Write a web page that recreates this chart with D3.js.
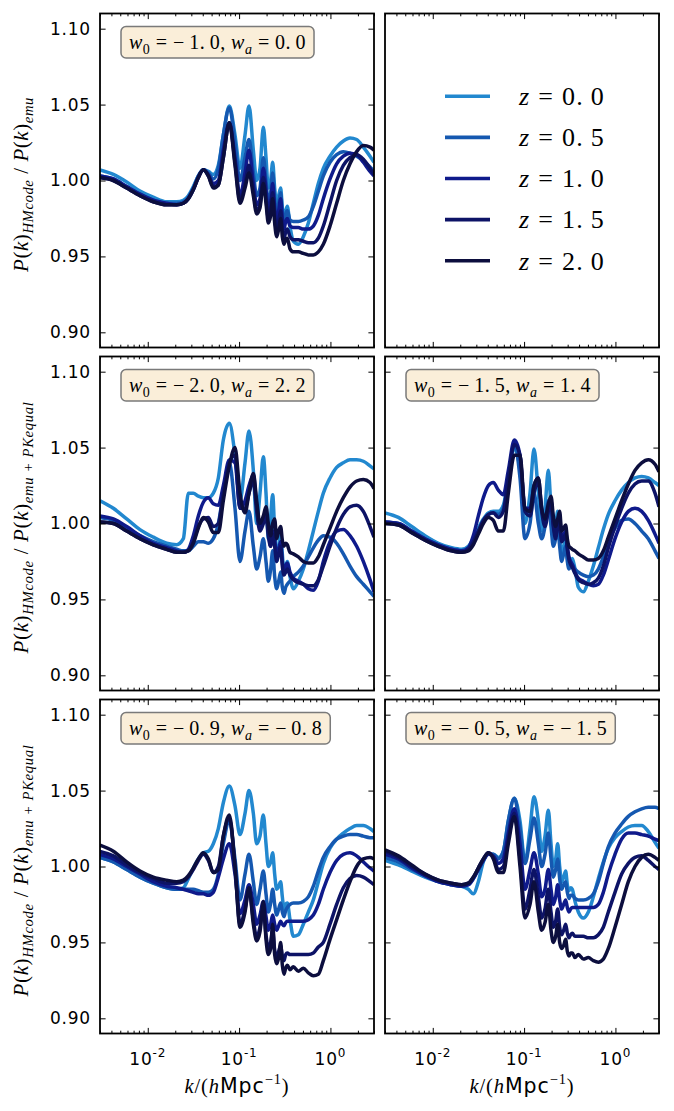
<!DOCTYPE html>
<html><head><meta charset="utf-8">
<script src="https://cdn.jsdelivr.net/npm/d3@7/dist/d3.min.js"></script>
<style>html,body{margin:0;padding:0;background:#fff;} svg{display:block}</style>
</head><body>
<svg id="chart" width="674" height="1111"></svg>
<script>
// ---------------- DATA ----------------
const kValues = [0.003, 0.0042, 0.00588, 0.00822, 0.01151, 0.01611, 0.02073, 0.02452, 0.02782, 0.03155,
  0.03579, 0.04059, 0.04605, 0.05223, 0.05925, 0.06721, 0.0782, 0.0902, 0.1023, 0.1161,
  0.1284, 0.1432, 0.1558, 0.1694, 0.1843, 0.1971, 0.209, 0.2217, 0.2332, 0.2452,
  0.2579, 0.2712, 0.2852, 0.2975, 0.3103, 0.3235, 0.3374, 0.3609, 0.3926, 0.4453,
  0.5051, 0.573, 0.65, 0.7373, 0.8364, 0.9894, 1.17, 1.385, 1.638, 1.938,
  2.292, 2.712, 3.0];

const kLimits = [0.003, 3];
const ratioLimits = [0.89, 1.11];
const yTicks = [0.90, 0.95, 1.00, 1.05, 1.10];
const yTickLabels = ["0.90", "0.95", "1.00", "1.05", "1.10"];
const xMajorTicks = [0.01, 0.1, 1];
const xTickLabels = [["10", "-2"], ["10", "-1"], ["10", "0"]];
const redshiftLabels = ["0.0", "0.5", "1.0", "1.5", "2.0"];
const w0Labels = ["\u22121.0", "\u22122.0", "\u22121.5", "\u22120.9", "\u22120.5"];
const waLabels = ["0.0", "2.2", "1.4", "\u22120.8", "\u22121.5"];

// Panel A: w0=-1.0, wa=0.0
const panelA_z00 = [1.007,1.004,0.999,0.993,0.989,0.986,0.986,0.987,0.990,0.996,
  1.003,1.007,1.006,1.004,1.010,1.030,1.049,1.030,1.008,1.030,
  1.049,1.020,1.000,1.008,1.035,1.015,0.995,1.000,1.012,0.995,
  0.985,0.990,0.995,0.982,0.975,0.980,0.983,0.970,0.960,0.958,
  0.963,0.972,0.985,0.998,1.008,1.016,1.022,1.026,1.028,1.027,
  1.022,1.016,1.012];
const panelA_z05 = [1.003,1.001,0.996,0.991,0.987,0.985,0.985,0.986,0.989,0.995,
  1.003,1.007,1.005,1.001,1.008,1.030,1.048,1.025,1.000,1.015,
  1.027,1.005,0.990,0.995,1.015,1.000,0.985,0.992,1.005,0.988,
  0.978,0.985,0.992,0.978,0.972,0.978,0.980,0.974,0.973,0.973,
  0.974,0.976,0.983,0.993,1.003,1.012,1.017,1.019,1.018,1.016,
  1.013,1.009,1.006];
const panelA_z10 = [1.003,1.001,0.996,0.991,0.987,0.985,0.984,0.985,0.988,0.994,
  1.002,1.007,1.004,0.998,1.000,1.020,1.038,1.015,0.990,1.005,
  1.020,0.998,0.984,0.988,1.008,0.994,0.980,0.986,0.998,0.982,
  0.973,0.980,0.988,0.975,0.968,0.973,0.975,0.970,0.969,0.969,
  0.968,0.968,0.970,0.977,0.988,1.001,1.011,1.016,1.018,1.017,
  1.012,1.006,1.003];
const panelA_z15 = [1.002,1.000,0.995,0.990,0.986,0.984,0.984,0.985,0.988,0.994,
  1.002,1.007,1.003,0.996,0.997,1.015,1.038,1.012,0.987,0.998,
  1.010,0.993,0.980,0.984,1.002,0.988,0.975,0.981,0.992,0.976,
  0.967,0.973,0.980,0.968,0.962,0.966,0.968,0.963,0.961,0.961,
  0.960,0.959,0.959,0.962,0.970,0.985,1.000,1.010,1.015,1.017,
  1.014,1.008,1.004];
const panelA_z20 = [1.002,1.000,0.995,0.990,0.986,0.984,0.984,0.985,0.988,0.994,
  1.002,1.007,1.003,0.995,0.997,1.015,1.038,1.010,0.985,0.995,
  1.005,0.990,0.978,0.982,0.998,0.985,0.972,0.977,0.988,0.972,
  0.963,0.968,0.975,0.963,0.958,0.961,0.962,0.955,0.953,0.953,
  0.952,0.951,0.951,0.953,0.958,0.970,0.985,1.000,1.011,1.019,
  1.023,1.022,1.020];

// Panel B: w0=-2.0, wa=2.2
const panelB_z00 = [1.015,1.010,1.003,0.996,0.991,0.987,0.986,0.990,1.020,1.020,
  1.018,1.017,1.017,1.020,1.030,1.055,1.066,1.045,1.015,1.040,
  1.061,1.035,1.000,1.020,1.044,1.020,0.990,1.005,1.019,0.995,
  0.975,0.985,0.995,0.980,0.968,0.972,0.975,0.965,0.957,0.962,
  0.970,0.982,0.995,1.008,1.020,1.030,1.037,1.040,1.042,1.042,
  1.041,1.038,1.036];
const panelB_z05 = [1.004,1.002,0.997,0.992,0.988,0.985,0.983,0.982,0.982,0.985,
  0.988,0.988,0.987,0.990,1.000,1.020,1.040,1.010,0.975,0.995,
  1.008,0.985,0.970,0.978,0.990,0.975,0.962,0.970,0.982,0.965,
  0.957,0.962,0.968,0.958,0.954,0.958,0.960,0.962,0.965,0.968,
  0.972,0.978,0.984,0.989,0.992,0.991,0.987,0.980,0.972,0.965,
  0.960,0.955,0.952];
const panelB_z10 = [1.005,1.003,0.998,0.992,0.987,0.984,0.982,0.981,0.983,0.992,
  1.005,1.014,1.017,1.013,1.012,1.025,1.042,1.040,1.010,1.015,
  1.025,1.032,1.012,0.998,1.002,1.008,0.995,0.985,0.995,0.990,
  0.978,0.983,0.988,0.975,0.968,0.972,0.974,0.968,0.964,0.962,
  0.960,0.957,0.956,0.962,0.975,0.988,0.995,0.996,0.992,0.985,
  0.975,0.963,0.955];
const panelB_z15 = [1.001,1.000,0.995,0.990,0.986,0.983,0.981,0.981,0.982,0.988,
  0.998,1.003,1.004,0.998,1.000,1.020,1.040,1.045,1.010,1.010,
  1.020,1.028,1.008,0.995,1.000,1.005,0.992,0.985,0.993,0.985,
  0.975,0.980,0.985,0.972,0.966,0.968,0.970,0.966,0.963,0.961,
  0.960,0.959,0.959,0.963,0.972,0.985,0.997,1.006,1.011,1.012,
  1.008,0.998,0.991];
const panelB_z20 = [1.001,1.000,0.995,0.990,0.986,0.983,0.981,0.981,0.982,0.987,
  0.997,1.004,1.001,0.994,0.994,1.015,1.038,1.050,1.020,1.007,
  1.020,1.033,1.015,1.000,1.005,1.011,1.000,0.992,1.000,1.003,
  0.990,0.995,0.998,0.989,0.985,0.987,0.986,0.981,0.980,0.978,
  0.975,0.974,0.974,0.978,0.986,0.997,1.008,1.017,1.024,1.028,
  1.029,1.027,1.023];

// Panel C: w0=-1.5, wa=1.4
const panelC_z00 = [1.007,1.004,0.998,0.992,0.987,0.984,0.983,0.985,0.990,0.997,
  1.003,1.007,1.008,1.008,1.012,1.030,1.050,1.035,1.000,1.020,
  1.049,1.020,0.995,1.010,1.035,1.010,0.990,0.998,1.008,0.990,
  0.980,0.985,0.990,0.978,0.972,0.975,0.977,0.970,0.958,0.955,
  0.962,0.972,0.984,0.996,1.006,1.015,1.022,1.027,1.030,1.031,
  1.030,1.027,1.025];
const panelC_z05 = [1.001,1.000,0.995,0.990,0.986,0.983,0.982,0.983,0.988,0.995,
  1.002,1.006,1.007,1.006,1.010,1.030,1.052,1.030,0.990,1.000,
  1.020,1.000,0.990,0.998,1.015,0.998,0.985,0.990,1.000,0.985,
  0.975,0.980,0.985,0.975,0.970,0.972,0.973,0.970,0.968,0.966,
  0.965,0.966,0.970,0.978,0.988,0.997,1.002,1.003,1.000,0.995,
  0.990,0.982,0.977];
const panelC_z10 = [1.001,1.000,0.995,0.990,0.986,0.983,0.982,0.984,0.992,1.005,
  1.017,1.025,1.027,1.022,1.019,1.035,1.055,1.045,1.010,1.010,
  1.025,1.030,1.010,1.000,1.010,1.015,1.000,0.992,1.000,1.003,
  0.990,0.992,0.995,0.985,0.978,0.975,0.973,0.968,0.964,0.962,
  0.960,0.959,0.960,0.966,0.976,0.990,1.001,1.008,1.010,1.008,
  1.002,0.993,0.987];
const panelC_z15 = [1.000,0.999,0.994,0.989,0.985,0.982,0.981,0.983,0.988,0.995,
  1.002,1.006,1.007,1.004,1.008,1.030,1.052,1.045,1.008,1.005,
  1.020,1.027,1.008,0.998,1.008,1.012,0.998,0.990,0.998,1.000,
  0.988,0.990,0.993,0.983,0.976,0.973,0.971,0.967,0.963,0.961,
  0.960,0.961,0.964,0.972,0.984,0.998,1.010,1.020,1.026,1.028,
  1.028,1.020,1.011];
const panelC_z20 = [1.000,0.999,0.994,0.989,0.985,0.982,0.981,0.982,0.986,0.993,
  1.000,1.004,1.002,0.995,0.995,1.020,1.045,1.045,1.010,1.008,
  1.025,1.030,1.010,1.003,1.013,1.018,1.005,0.998,1.003,1.008,
  0.995,0.997,0.999,0.990,0.985,0.984,0.983,0.982,0.980,0.978,
  0.976,0.976,0.977,0.982,0.991,1.003,1.015,1.026,1.035,1.040,
  1.042,1.039,1.034];

// Panel D: w0=-0.9, wa=-0.8
const panelD_z00 = [1.006,1.003,0.998,0.993,0.989,0.986,0.985,0.986,0.992,0.999,
  1.005,1.009,1.010,1.015,1.025,1.042,1.053,1.040,1.021,1.035,
  1.050,1.035,1.015,1.020,1.034,1.015,1.000,1.003,1.009,0.995,
  0.985,0.987,0.990,0.980,0.972,0.975,0.976,0.965,0.954,0.955,
  0.962,0.970,0.978,0.990,1.002,1.012,1.018,1.022,1.025,1.027,
  1.027,1.025,1.023];
const panelD_z05 = [1.006,1.003,0.998,0.993,0.989,0.986,0.985,0.985,0.985,0.985,
  0.984,0.983,0.983,0.985,0.995,1.015,1.030,1.005,0.978,0.995,
  1.008,0.990,0.975,0.985,0.997,0.982,0.970,0.976,0.985,0.975,
  0.968,0.972,0.976,0.970,0.967,0.971,0.973,0.975,0.976,0.976,
  0.977,0.980,0.987,0.997,1.006,1.013,1.018,1.020,1.021,1.021,
  1.020,1.019,1.019];
const panelD_z10 = [1.008,1.005,1.000,0.995,0.990,0.987,0.986,0.985,0.984,0.983,
  0.982,0.982,0.981,0.983,0.993,1.005,1.015,0.995,0.969,0.978,
  0.988,0.975,0.962,0.968,0.977,0.967,0.958,0.962,0.968,0.962,
  0.958,0.961,0.964,0.962,0.961,0.963,0.964,0.964,0.964,0.964,
  0.964,0.965,0.968,0.975,0.985,0.996,1.004,1.008,1.009,1.007,
  1.003,0.999,0.997];
const panelD_z15 = [1.010,1.007,1.001,0.996,0.992,0.989,0.989,0.990,0.993,0.998,
  1.004,1.008,1.004,0.996,1.000,1.020,1.032,1.000,0.962,0.972,
  0.985,0.965,0.953,0.960,0.972,0.955,0.946,0.950,0.958,0.945,
  0.940,0.944,0.948,0.941,0.938,0.942,0.943,0.942,0.942,0.942,
  0.942,0.942,0.943,0.947,0.950,0.962,0.975,0.986,0.992,0.994,
  0.993,0.990,0.988];
const panelD_z20 = [1.014,1.010,1.003,0.997,0.993,0.991,0.990,0.991,0.994,0.999,
  1.005,1.009,1.005,0.996,0.998,1.020,1.034,1.000,0.960,0.970,
  0.986,0.962,0.951,0.957,0.977,0.952,0.942,0.946,0.962,0.942,
  0.936,0.940,0.950,0.935,0.929,0.933,0.935,0.932,0.934,0.931,
  0.933,0.930,0.928,0.929,0.938,0.952,0.965,0.978,0.990,1.000,
  1.005,1.006,1.005];

// Panel E: w0=-0.5, wa=-1.5
const panelE_z00 = [1.004,1.001,0.997,0.993,0.990,0.988,0.987,0.985,0.982,0.990,
  1.003,1.008,1.008,1.006,1.010,1.030,1.045,1.030,1.003,1.025,
  1.046,1.030,1.010,1.020,1.037,1.015,1.000,1.005,1.015,1.000,
  0.990,0.993,0.997,0.988,0.984,0.986,0.985,0.977,0.970,0.966,
  0.970,0.980,0.992,1.003,1.012,1.019,1.023,1.026,1.027,1.027,
  1.023,1.016,1.012];
const panelE_z05 = [1.006,1.003,0.998,0.994,0.990,0.988,0.987,0.988,0.992,0.998,
  1.004,1.008,1.008,1.005,1.010,1.030,1.045,1.025,1.002,1.018,
  1.032,1.015,1.000,1.008,1.022,1.005,0.993,0.998,1.005,0.992,
  0.985,0.988,0.990,0.983,0.979,0.981,0.981,0.979,0.978,0.978,
  0.979,0.982,0.990,1.002,1.013,1.022,1.028,1.033,1.036,1.038,
  1.039,1.039,1.038];
const panelE_z10 = [1.008,1.005,0.999,0.994,0.990,0.988,0.987,0.988,0.992,0.998,
  1.004,1.008,1.007,1.002,1.005,1.022,1.038,1.015,0.985,0.998,
  1.009,0.995,0.980,0.985,0.998,0.985,0.975,0.980,0.988,0.978,
  0.972,0.975,0.978,0.973,0.970,0.972,0.973,0.973,0.973,0.973,
  0.973,0.973,0.975,0.983,0.995,1.008,1.018,1.022,1.022,1.021,
  1.020,1.018,1.017];
const panelE_z15 = [1.010,1.006,1.000,0.995,0.991,0.989,0.988,0.989,0.993,0.999,
  1.005,1.009,1.006,0.998,1.000,1.018,1.035,1.005,0.972,0.985,
  0.998,0.980,0.966,0.972,0.985,0.970,0.960,0.964,0.972,0.960,
  0.955,0.958,0.962,0.956,0.953,0.955,0.956,0.954,0.954,0.954,
  0.953,0.953,0.955,0.960,0.970,0.983,0.995,1.002,1.006,1.007,
  1.004,1.000,0.998];
const panelE_z20 = [1.011,1.007,1.001,0.995,0.991,0.989,0.988,0.989,0.993,0.999,
  1.005,1.009,1.005,0.996,0.996,1.015,1.033,1.000,0.966,0.975,
  0.990,0.970,0.958,0.963,0.975,0.958,0.950,0.954,0.962,0.950,
  0.946,0.948,0.952,0.944,0.941,0.943,0.943,0.940,0.942,0.939,
  0.940,0.938,0.937,0.939,0.946,0.960,0.975,0.990,1.000,1.006,
  1.008,1.006,1.004];

// ---------------- STYLE / LAYOUT ----------------
const lineColors = ["#2288cf", "#1558b0", "#0f1a8b", "#0d1366", "#0c0e3e"];
const mathFont = "'Liberation Serif', 'DejaVu Serif', serif";
const sansFont = "'DejaVu Sans', sans-serif";
const W = 274, H = 334;
const colX = [100, 385];
const rowY = [13.5, 356.5, 699.5];

const panels = [
  {col: 0, row: 0, series: [panelA_z00, panelA_z05, panelA_z10, panelA_z15, panelA_z20], p: 0, ysub: "emu", ylen: 175},
  {col: 1, row: 0, legend: true},
  {col: 0, row: 1, series: [panelB_z00, panelB_z05, panelB_z10, panelB_z15, panelB_z20], p: 1, ysub: "emu+PKequal", ylen: 252},
  {col: 1, row: 1, series: [panelC_z00, panelC_z05, panelC_z10, panelC_z15, panelC_z20], p: 2},
  {col: 0, row: 2, series: [panelD_z00, panelD_z05, panelD_z10, panelD_z15, panelD_z20], p: 3, ysub: "emu+PKequal", ylen: 252},
  {col: 1, row: 2, series: [panelE_z00, panelE_z05, panelE_z10, panelE_z15, panelE_z20], p: 4}
];

const svg = d3.select("#chart");
const x = d3.scaleLog().domain(kLimits).range([0, W]);
const y = d3.scaleLinear().domain(ratioLimits).range([H, 0]);
const xMinor = x.ticks().filter(v => !xMajorTicks.some(m => Math.abs(m - v) / m < 1e-6));

svg.append("defs").append("clipPath").attr("id", "plotclip")
  .append("rect").attr("x", 0).attr("y", 0).attr("width", W).attr("height", H);

function addRich(parent, parts, size) {
  const t = parent.append("text").attr("font-family", mathFont).attr("font-size", size).attr("fill", "#000");
  let cur = 0;
  for (const p of parts) {
    const off = p.sub ? size * 0.26 : (p.sup ? -size * 0.42 : 0);
    const ts = t.append("tspan").text(p.t).attr("dy", off - cur)
      .attr("font-size", (p.sub || p.sup) ? size * 0.7 : size)
      .attr("font-style", p.it ? "italic" : "normal");
    if (p.sans) ts.attr("font-family", sansFont);
    cur = off;
  }
  return t;
}
function spreadTo(t, target) {
  const node = t.node();
  const w = node.getComputedTextLength();
  const n = node.getNumberOfChars();
  t.attr("letter-spacing", Math.max(-0.5, (target - w) / n).toFixed(3));
  return t;
}
const annParts = i => [
  {t: "w", it: true}, {t: "0", sub: true},
  {t: " = " + w0Labels[i].replace(/^\u2212/, "\u2212\u2009").replace(".", ".\u2009") + ", "},
  {t: "w", it: true}, {t: "a", sub: true, it: true},
  {t: " = " + waLabels[i].replace(/^\u2212/, "\u2212\u2009").replace(".", ".\u2009")}
];
const legParts = i => [{t: "z", it: true}, {t: " = " + redshiftLabels[i].replace(".", ".\u2009")}];
const yLabParts = sub => [
  {t: "P", it: true}, {t: "("}, {t: "k", it: true}, {t: ")"},
  {t: "HMcode", sub: true, it: true}, {t: " / "},
  {t: "P", it: true}, {t: "("}, {t: "k", it: true}, {t: ")"},
  {t: sub.replace("+", " + "), sub: true, it: true}
];
const xLabParts = [{t: "k", it: true}, {t: "/("}, {t: "h", it: true}, {t: "Mpc", sans: true}, {t: "\u22121", sup: true}, {t: ")"}];

function naturalWidth(parts, size) {
  const tmp = addRich(svg, parts, size);
  const w = tmp.node().getComputedTextLength();
  tmp.remove();
  return w;
}
const annBase = naturalWidth(annParts(0), 20);

const line = d3.line().x((d, i) => x(kValues[i])).y(d => y(d)).curve(d3.curveMonotoneX);

panels.forEach(pn => {
  const g = svg.append("g").attr("transform", `translate(${colX[pn.col]},${rowY[pn.row]})`);
  g.append("rect").attr("width", W).attr("height", H).attr("fill", "#fff");

  if (!pn.legend) {
    const plot = g.append("g").attr("clip-path", "url(#plotclip)");
    pn.series.forEach((s, i) => {
      plot.append("path").datum(s).attr("d", line).attr("fill", "none")
        .attr("stroke", lineColors[i]).attr("stroke-width", 3.5)
        .attr("stroke-linejoin", "round").attr("stroke-linecap", "butt");
    });
    const yl = g.append("g").call(d3.axisLeft(y).tickValues(yTicks).tickSize(-5.6).tickPadding(9)
      .tickFormat((d, i) => pn.col === 0 ? yTickLabels[i] : ""));
    const yr = g.append("g").attr("transform", `translate(${W},0)`)
      .call(d3.axisRight(y).tickValues(yTicks).tickSize(-5.6).tickFormat(""));
    [yl, yr].forEach(a => {
      a.select(".domain").remove();
      a.attr("font-family", sansFont).attr("font-size", 17);
      a.selectAll("line").attr("stroke", "#000").attr("stroke-width", 1);
      a.selectAll("text").attr("fill", "#000").attr("letter-spacing", 0.8);
    });
  }
  const axes = [
    g.append("g").attr("transform", `translate(0,${H})`).call(d3.axisBottom(x).tickValues(xMajorTicks).tickSize(-5.6).tickFormat("")),
    g.append("g").attr("transform", `translate(0,${H})`).call(d3.axisBottom(x).tickValues(xMinor).tickSize(-2.8).tickFormat("")),
    g.append("g").call(d3.axisTop(x).tickValues(xMajorTicks).tickSize(-5.6).tickFormat("")),
    g.append("g").call(d3.axisTop(x).tickValues(xMinor).tickSize(-2.8).tickFormat(""))
  ];
  axes.forEach(a => {
    a.select(".domain").remove();
    a.selectAll("line").attr("stroke", "#000").attr("stroke-width", 1);
  });

  g.append("rect").attr("width", W).attr("height", H).attr("fill", "none")
    .attr("stroke", "#000").attr("stroke-width", 1.8);

  if (pn.row === 2) {
    xMajorTicks.forEach((v, i) => {
      const t = g.append("text").attr("x", x(v)).attr("y", H + 31).attr("text-anchor", "middle")
        .attr("font-family", sansFont).attr("font-size", 17).attr("letter-spacing", 0.8).attr("fill", "#000");
      t.append("tspan").text(xTickLabels[i][0]);
      t.append("tspan").text(xTickLabels[i][1]).attr("font-size", 12).attr("dy", -7.5);
    });
    const xl = addRich(g, xLabParts, 20.5).attr("x", W / 2).attr("y", H + 59).attr("text-anchor", "middle");
    spreadTo(xl, 105);
  }

  if (pn.col === 0) {
    const lab = g.append("g").attr("transform", `translate(${28 - colX[0]},${H / 2 + 4}) rotate(-90)`);
    spreadTo(addRich(lab, yLabParts(pn.ysub), 21).attr("text-anchor", "middle"), pn.ylen);
  }

  if (pn.legend) {
    redshiftLabels.forEach((z, i) => {
      const ly = 82.8 + i * 41.1;
      g.append("line").attr("x1", 60).attr("x2", 105).attr("y1", ly).attr("y2", ly)
        .attr("stroke", lineColors[i]).attr("stroke-width", 3.6);
      spreadTo(addRich(g, legParts(i), 26).attr("x", 134).attr("y", ly + 8.8), 86);
    });
  } else {
    const box = g.append("g");
    const rect = box.append("rect").attr("x", 21).attr("y", 13).attr("height", 31.5).attr("rx", 5).attr("ry", 5)
      .attr("fill", "#faeed9").attr("stroke", "#7a7a7a").attr("stroke-width", 1.5);
    const t = addRich(box, annParts(pn.p), 20).attr("x", 29).attr("y", 35);
    const natural = t.node().getComputedTextLength();
    spreadTo(t, natural * 177 / annBase);
    rect.attr("width", t.node().getBBox().width + 16);
  }
});
</script>
</body></html>
